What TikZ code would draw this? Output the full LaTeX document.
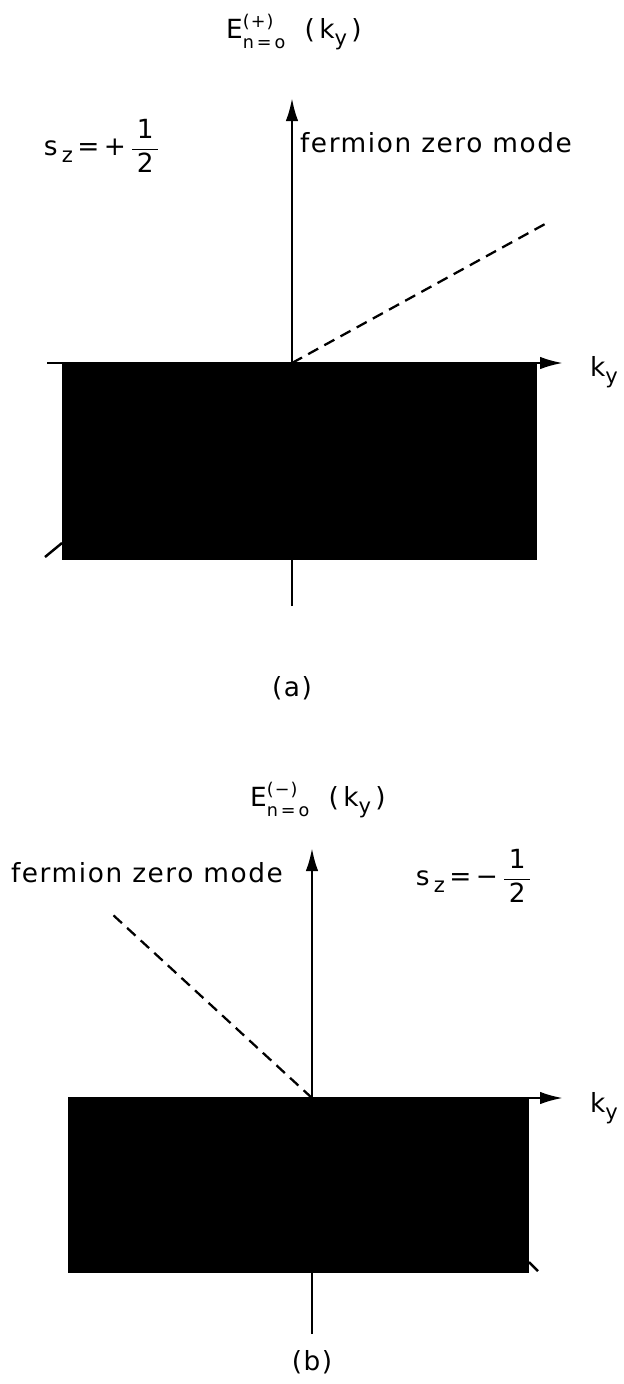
\documentclass[tikz,border=0pt]{standalone}
\usepackage{fontspec}
\setmainfont{DejaVu Sans}
\newfontfamily\letterfont[LetterSpace=6]{DejaVu Sans}
\usetikzlibrary{arrows.meta}

% lowered index
\newcommand{\lowidx}[1]{\raisebox{-4pt}{\fontsize{12}{12}\selectfont #1}}
% energy label with raised and lowered indices
\newcommand{\elabel}[1]{$\hbox{E}^{\hbox{\fontsize{10}{10}\selectfont(#1)}}_{\raisebox{-2pt}{\fontsize{10}{10}\selectfont n\,=\,o}}$\hspace{0.7em}(\,k\lowidx{y}\,)}
% spin label
\newcommand{\spinlabel}[1]{s\,\lowidx{z}\,=\,#1\,$\displaystyle\frac{\hbox{\,1\,}}{\hbox{\,2\,}}$}

\begin{document}
\begin{tikzpicture}[
      x=0.02cm, y=-0.02cm,
      axis/.style={-{Latex[length=4.6mm,width=2.5mm]}, line width=1.4pt},
      zeromode/.style={line width=1.3pt, dash pattern=on 6.5pt off 4pt},
      band/.style={fill=black},
      lab/.style={font=\letterfont\fontsize{15}{17}\selectfont, inner sep=0pt}
    ]
    \useasboundingbox (0,0) rectangle (624,1384);

    % (a) s_z = +1/2
    \coordinate (oa) at (292,363);
    \coordinate (ya) at (292,98);
    \coordinate (ybota) at (292,606);
    \coordinate (xlefta) at (47,363);
    \coordinate (xa) at (563,363);
    \coordinate (za) at (545,224);
    \fill[band] (62,363) rectangle (537,560);
    \draw[line width=1.4pt] (45,557) -- (62,543);
    \draw[axis] (xlefta) -- (xa);
    \draw[axis] (ybota) -- (ya);
    \draw[zeromode] (oa) -- (za);
    \node[lab] (titlea) at (294,32) {\elabel{+}};
    \node[lab] (spina) at (102,146) {\spinlabel{+}};
    \node[lab] (modea) at (436,143) {fermion zero mode};
    \node[lab] (kya) at (604,372) {k\lowidx{y}};
    \node[lab] (capa) at (292,688) {(a)};

    % (b) s_z = -1/2
    \coordinate (ob) at (312,1098);
    \coordinate (yb) at (312,848);
    \coordinate (ybotb) at (312,1334);
    \coordinate (xleftb) at (68,1098);
    \coordinate (xb) at (563,1098);
    \coordinate (zb) at (112,914);
    \fill[band] (68,1098) rectangle (529,1273);
    \draw[line width=1.4pt] (529,1262) -- (538,1271);
    \draw[axis] (xleftb) -- (xb);
    \draw[axis] (ybotb) -- (yb);
    \draw[zeromode] (ob) -- (zb);
    \node[lab] (titleb) at (318,800) {\elabel{−}};
    \node[lab] (modeb) at (147,873) {fermion zero mode};
    \node[lab] (spinb) at (474,876) {\spinlabel{−}};
    \node[lab] (kyb) at (604,1108) {k\lowidx{y}};
    \node[lab] (capb) at (312,1362) {(b)};
\end{tikzpicture}
\end{document}
